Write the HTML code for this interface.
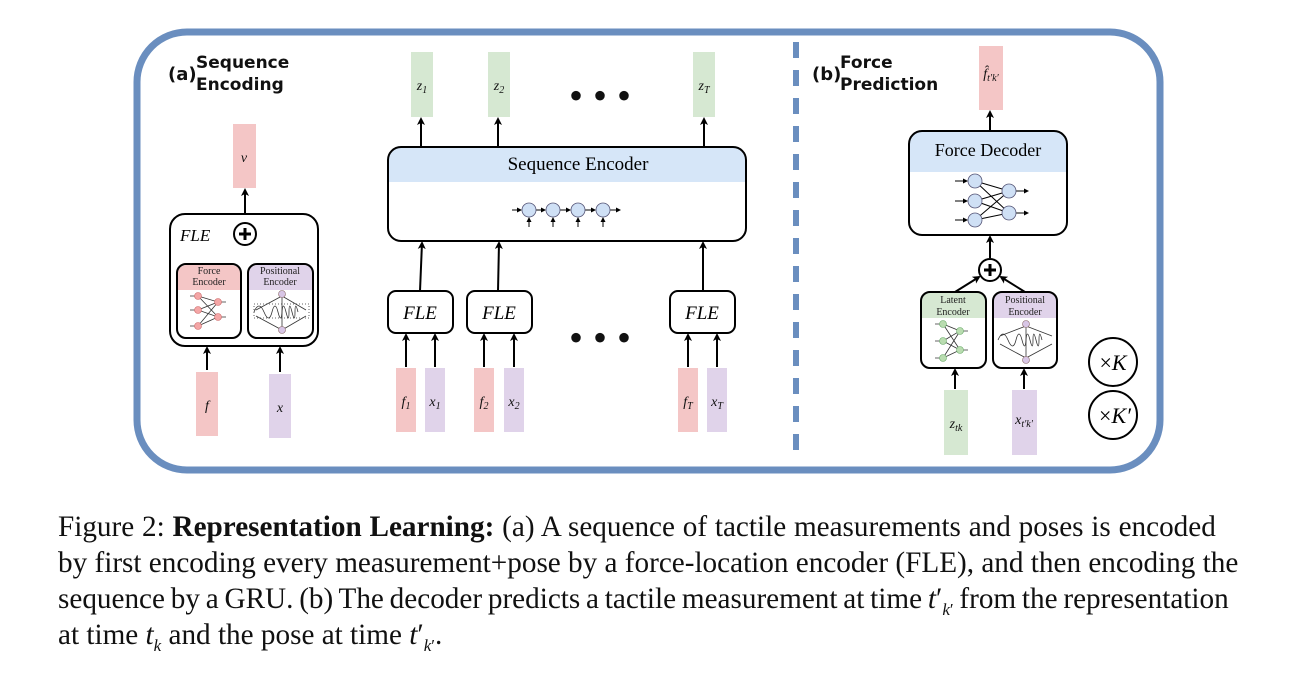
<!DOCTYPE html>
<html><head><style>
body{margin:0;background:#fff;width:1298px;height:677px;overflow:hidden}
.cap{position:absolute;left:58px;font-family:"Liberation Serif",serif;font-size:29.2px;color:#111;white-space:nowrap}
</style></head><body>
<svg width="1298" height="500" style="position:absolute;left:0;top:0" font-family="Liberation Serif,serif">
<defs><marker id="a" markerWidth="8" markerHeight="8" refX="6" refY="4" orient="auto" markerUnits="userSpaceOnUse"><path d="M0,0 L8,4 L0,8 L2,4z" fill="#000"/></marker>
<marker id="s" markerWidth="5" markerHeight="5" refX="4" refY="2.5" orient="auto" markerUnits="userSpaceOnUse"><path d="M0,0 L5,2.5 L0,5z" fill="#000"/></marker></defs>
<rect x="137" y="32" width="1023" height="438" rx="50" fill="none" stroke="#6a8ebf" stroke-width="7"/>
<line x1="796" y1="42" x2="796" y2="458" stroke="#6a8ebf" stroke-width="6" stroke-dasharray="16,12"/>
<g font-family="DejaVu Sans,sans-serif" font-weight="bold" fill="#111">
<text x="168" y="80" font-size="18">(a)</text><text x="196" y="68" font-size="17">Sequence</text><text x="196" y="90" font-size="17">Encoding</text>
<text x="812" y="80" font-size="18">(b)</text><text x="840" y="68" font-size="17">Force</text><text x="840" y="90" font-size="17">Prediction</text>
</g>
<g stroke="#000" stroke-width="2" fill="none" marker-end="url(#a)">
<line x1="245" y1="222" x2="245" y2="190"/>
<line x1="207" y1="370" x2="207" y2="348"/><line x1="280" y1="372" x2="280" y2="348"/>
<line x1="210" y1="262" x2="234" y2="243"/><line x1="280" y1="262" x2="256" y2="243"/>
<line x1="421" y1="147" x2="421" y2="119"/><line x1="498" y1="147" x2="498" y2="119"/><line x1="704" y1="147" x2="704" y2="119"/>
<line x1="420" y1="291" x2="422" y2="243"/><line x1="498" y1="291" x2="499" y2="243"/><line x1="703" y1="291" x2="703" y2="243"/>
<line x1="406" y1="367" x2="406" y2="335"/><line x1="435" y1="367" x2="435" y2="335"/><line x1="484" y1="367" x2="484" y2="335"/><line x1="514" y1="367" x2="514" y2="335"/><line x1="688" y1="367" x2="688" y2="335"/><line x1="717" y1="367" x2="717" y2="335"/>
<line x1="990" y1="131" x2="990" y2="112"/><line x1="990" y1="258" x2="990" y2="237"/>
<line x1="955" y1="292" x2="979" y2="277"/><line x1="1025" y1="292" x2="1001" y2="277"/>
<line x1="955" y1="389" x2="955" y2="370"/><line x1="1024" y1="389" x2="1024" y2="370"/>
</g>
<g>
<rect x="233" y="124" width="23" height="64" fill="#f4c6c6"/>
<rect x="196" y="372" width="22" height="64" fill="#f4c6c6"/>
<rect x="269" y="374" width="22" height="64" fill="#e0d3ea"/>
<rect x="411" y="52" width="22" height="65" fill="#d6e8d2"/><rect x="488" y="52" width="22" height="65" fill="#d6e8d2"/><rect x="693" y="52" width="22" height="65" fill="#d6e8d2"/>
<rect x="396" y="368" width="20" height="64" fill="#f4c6c6"/><rect x="425" y="368" width="20" height="64" fill="#e0d3ea"/>
<rect x="474" y="368" width="20" height="64" fill="#f4c6c6"/><rect x="504" y="368" width="20" height="64" fill="#e0d3ea"/>
<rect x="678" y="368" width="20" height="64" fill="#f4c6c6"/><rect x="707" y="368" width="20" height="64" fill="#e0d3ea"/>
<rect x="979" y="46" width="24" height="64" fill="#f4c6c6"/>
<rect x="944" y="390" width="24" height="65" fill="#d6e8d2"/><rect x="1012" y="390" width="25" height="65" fill="#e0d3ea"/>
</g>
<g font-style="italic" font-size="14" text-anchor="middle" fill="#111">
<text x="244" y="162">v</text><text x="207" y="410">f</text><text x="280" y="412">x</text>
<text x="422" y="90">z<tspan font-size="10" dy="3">1</tspan></text><text x="499" y="90">z<tspan font-size="10" dy="3">2</tspan></text><text x="704" y="90">z<tspan font-size="10" dy="3">T</tspan></text>
<text x="406" y="406">f<tspan font-size="10" dy="3">1</tspan></text><text x="435" y="406">x<tspan font-size="10" dy="3">1</tspan></text>
<text x="484" y="406">f<tspan font-size="10" dy="3">2</tspan></text><text x="514" y="406">x<tspan font-size="10" dy="3">2</tspan></text>
<text x="688" y="406">f<tspan font-size="10" dy="3">T</tspan></text><text x="717" y="406">x<tspan font-size="10" dy="3">T</tspan></text>
<text x="991" y="78">f̂<tspan font-size="10" dy="3">t′k′</tspan></text>
<text x="956" y="428">z<tspan font-size="10" dy="3">tk</tspan></text><text x="1024" y="424">x<tspan font-size="10" dy="3">t′k′</tspan></text>
</g>
<g font-size="40" fill="#111" text-anchor="middle"><text x="600" y="109">• • •</text><text x="600" y="351">• • •</text></g>
<rect x="170" y="214" width="148" height="132" rx="15" fill="#fff" stroke="#000" stroke-width="2"/>
<text x="180" y="241" font-style="italic" font-size="17">FLE</text>
<circle cx="245" cy="234" r="11" fill="#fff" stroke="#000" stroke-width="2"/>
<path d="M239,234h12M245,228v12" stroke="#000" stroke-width="3"/>
<path d="M177,290v-15a10,10 0 0 1 10,-10h44a10,10 0 0 1 10,10v15z" fill="#f4c6c6"/>
<rect x="177" y="264" width="64" height="74" rx="9" fill="none" stroke="#000" stroke-width="2"/>
<path d="M248,290v-15a10,10 0 0 1 10,-10h45a10,10 0 0 1 10,10v15z" fill="#e0d3ea"/>
<rect x="248" y="264" width="65" height="74" rx="9" fill="none" stroke="#000" stroke-width="2"/>
<g font-size="10" text-anchor="middle" fill="#222"><text x="209" y="274">Force</text><text x="209" y="285">Encoder</text><text x="280" y="274">Positional</text><text x="280" y="285">Encoder</text></g>
<g stroke="#333" stroke-width="0.8" fill="none"><path d="M198,296L218,302L198,310L218,317L198,326M198,296L218,317M198,326L218,302"/><path d="M190,296h6M190,310h6M190,326h6M220,302h6M220,317h6"/></g>
<g fill="#f4a6a6" stroke="#c66" stroke-width="0.6"><circle cx="198" cy="296" r="3.5"/><circle cx="198" cy="310" r="3.5"/><circle cx="198" cy="326" r="3.5"/><circle cx="218" cy="302" r="3.5"/><circle cx="218" cy="317" r="3.5"/></g>
<g stroke="#333" fill="none" stroke-width="0.8"><path d="M254,312 q5,-12 10,0 t8,0 t6,0 t4,0 t4,0 t3,0 t3,0 t3,0 t3,0"/><path d="M282,296L256,310M282,296L306,310M282,296v34M256,316L282,330M306,316L282,330"/><rect x="254" y="304" width="55" height="14" stroke-dasharray="1,2"/></g>
<g fill="#d8c6e6" stroke="#866" stroke-width="0.6"><circle cx="282" cy="294" r="3.5"/><circle cx="282" cy="330" r="3.5"/></g>
<path d="M388,182v-22a13,13 0 0 1 13,-13h332a13,13 0 0 1 13,13v22z" fill="#d6e6f8"/>
<rect x="388" y="147" width="358" height="94" rx="13" fill="none" stroke="#000" stroke-width="2"/>
<text x="578" y="170" font-size="19" text-anchor="middle">Sequence Encoder</text>
<g stroke="#000" stroke-width="1" marker-end="url(#s)"><line x1="512" y1="210" x2="521" y2="210"/><line x1="536" y1="210" x2="545" y2="210"/><line x1="560" y1="210" x2="570" y2="210"/><line x1="585" y1="210" x2="595" y2="210"/><line x1="610" y1="210" x2="620" y2="210"/>
<line x1="529" y1="227" x2="529" y2="218"/><line x1="553" y1="227" x2="553" y2="218"/><line x1="578" y1="227" x2="578" y2="218"/><line x1="603" y1="227" x2="603" y2="218"/></g>
<g fill="#cfe0f5" stroke="#557" stroke-width="0.8"><circle cx="529" cy="210" r="7"/><circle cx="553" cy="210" r="7"/><circle cx="578" cy="210" r="7"/><circle cx="603" cy="210" r="7"/></g>
<g fill="#fff" stroke="#000" stroke-width="2"><rect x="388" y="291" width="65" height="42" rx="8"/><rect x="467" y="291" width="65" height="42" rx="8"/><rect x="670" y="291" width="65" height="42" rx="8"/></g>
<g font-style="italic" font-size="19" text-anchor="middle"><text x="420" y="319">FLE</text><text x="499" y="319">FLE</text><text x="702" y="319">FLE</text></g>
<path d="M909,172v-28a13,13 0 0 1 13,-13h132a13,13 0 0 1 13,13v28z" fill="#d6e6f8"/>
<rect x="909" y="131" width="158" height="104" rx="13" fill="none" stroke="#000" stroke-width="2"/>
<text x="988" y="156" font-size="18" text-anchor="middle">Force Decoder</text>
<g stroke="#000" stroke-width="1" fill="none"><path d="M975,181L1009,191L975,201L1009,213L975,220M975,181L1009,213M975,220L1009,191M975,201L1009,191"/></g>
<g stroke="#000" stroke-width="1" marker-end="url(#s)"><line x1="955" y1="181" x2="967" y2="181"/><line x1="955" y1="201" x2="967" y2="201"/><line x1="955" y1="220" x2="967" y2="220"/><line x1="1016" y1="191" x2="1028" y2="191"/><line x1="1016" y1="213" x2="1028" y2="213"/></g>
<g fill="#cfe0f5" stroke="#557" stroke-width="0.8"><circle cx="975" cy="181" r="7"/><circle cx="975" cy="201" r="7"/><circle cx="975" cy="220" r="7"/><circle cx="1009" cy="191" r="7"/><circle cx="1009" cy="213" r="7"/></g>
<circle cx="990" cy="270" r="11" fill="#fff" stroke="#000" stroke-width="2"/>
<path d="M984,270h12M990,264v12" stroke="#000" stroke-width="3"/>
<path d="M921,318v-16a10,10 0 0 1 10,-10h45a10,10 0 0 1 10,10v16z" fill="#d6e8d2"/>
<rect x="921" y="292" width="65" height="76" rx="9" fill="none" stroke="#000" stroke-width="2"/>
<path d="M993,318v-16a10,10 0 0 1 10,-10h44a10,10 0 0 1 10,10v16z" fill="#e0d3ea"/>
<rect x="993" y="292" width="64" height="76" rx="9" fill="none" stroke="#000" stroke-width="2"/>
<g font-size="10" text-anchor="middle" fill="#222"><text x="953" y="303">Latent</text><text x="953" y="315">Encoder</text><text x="1025" y="303">Positional</text><text x="1025" y="315">Encoder</text></g>
<g stroke="#333" stroke-width="0.8" fill="none"><path d="M943,324L960,331L943,341L960,350L943,358M943,324L960,350M943,358L960,331"/><path d="M935,324h6M935,341h6M935,358h6M962,331h6M962,350h6"/></g>
<g fill="#b9dcb0" stroke="#6a6" stroke-width="0.6"><circle cx="943" cy="324" r="3.5"/><circle cx="943" cy="341" r="3.5"/><circle cx="943" cy="358" r="3.5"/><circle cx="960" cy="331" r="3.5"/><circle cx="960" cy="350" r="3.5"/></g>
<g stroke="#333" fill="none" stroke-width="0.8"><path d="M998,340 q5,-12 10,0 t8,0 t6,0 t4,0 t4,0 t3,0 t3,0 t3,0 t3,0"/><path d="M1026,326L1000,336M1026,326L1052,336M1026,326v32M1000,344L1026,358M1052,344L1026,358"/></g>
<g fill="#d8c6e6" stroke="#866" stroke-width="0.6"><circle cx="1026" cy="324" r="3.5"/><circle cx="1026" cy="360" r="3.5"/></g>
<g fill="#fff" stroke="#000" stroke-width="2"><circle cx="1113" cy="362" r="24"/><circle cx="1113" cy="415" r="24"/></g>
<g font-size="22" text-anchor="middle"><text x="1113" y="370">×<tspan font-style="italic">K</tspan></text><text x="1115" y="423">×<tspan font-style="italic">K′</tspan></text></g>
</svg>
<div class="cap" style="top:511px;word-spacing:0.5px"><span>Figure 2: </span><b>Representation Learning:</b> (a) A sequence of tactile measurements and poses is encoded</div>
<div class="cap" style="top:547px">by first encoding every measurement+pose by a force-location encoder (FLE), and then encoding the</div>
<div class="cap" style="top:583px;word-spacing:-1.5px">sequence by a GRU. (b) The decoder predicts a tactile measurement at time <i>t</i>′<sub style="font-size:17px"><i>k</i>′</sub> from the representation</div>
<div class="cap" style="top:619px">at time <i>t<sub style="font-size:17px">k</sub></i> and the pose at time <i>t</i>′<sub style="font-size:17px"><i>k</i>′</sub>.</div>
</body></html>
